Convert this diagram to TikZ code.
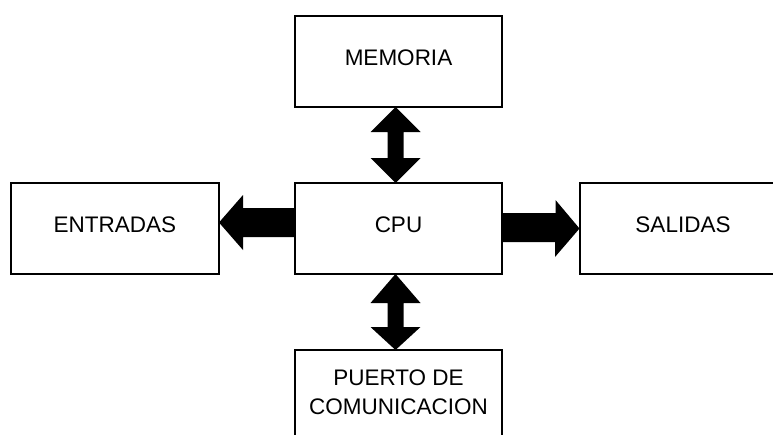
\documentclass[tikz,border=0pt]{standalone}
\usepackage{fontspec}
\setmainfont{Liberation Sans}
\usetikzlibrary{calc}
\tikzset{
  box/.style={draw=black, line width=2pt, fill=white, minimum width=207pt,
    minimum height=91pt, inner sep=0pt, outer sep=0pt, align=center,
    text depth=7pt, font=\fontsize{22.5}{29}\selectfont},
  blockarrow/.style={fill=black, draw=none}
}
\begin{document}
\begin{tikzpicture}[x=1pt, y=-1pt]
  \useasboundingbox (0,0) rectangle (773,434);
  % blocks
  \node[box] (mem) at (398.5,61.5) {MEMORIA};
  \node[box] (cpu) at (398.5,228.5) {CPU};
  \node[box, minimum width=208pt] (ent) at (115,228.5) {ENTRADAS};
  \node[box] (sal) at (683,228.5) {SALIDAS};
  \node[box] (port) at (398.5,395.5) {PUERTO DE\\COMUNICACION};
  % memory <-> cpu
  \fill[blockarrow] ($(mem.south)+(-3,0)$) -- ++(25,25) -- ++(-17,0) -- ++(0,26)
    -- ++(17,0) -- (cpu.north -| {$(mem.south)+(-3,0)$}) -- ++(-25,-25) -- ++(17,0)
    -- ++(0,-26) -- ++(-17,0) -- cycle;
  % cpu <-> port
  \fill[blockarrow] ($(cpu.south)+(-3,0)$) -- ++(25,29) -- ++(-17,0) -- ++(0,24)
    -- ++(17,0) -- (port.north -| {$(cpu.south)+(-3,0)$}) -- ++(-25,-23) -- ++(17,0)
    -- ++(0,-24) -- ++(-17,0) -- cycle;
  % cpu -> entradas
  \fill[blockarrow] ($(ent.east)+(0,-6)$) -- ++(24,-27.5) -- ++(0,13)
    -- ($(cpu.west)+(0,-20.5)$) -- ++(0,29) -- ++(-52,0) -- ++(0,13) -- cycle;
  % cpu -> salidas
  \fill[blockarrow] (sal.west) -- ++(-24,-28.5) -- ++(0,13)
    -- ($(cpu.east)+(0,-15.5)$) -- ++(0,29) -- ++(53,0) -- ++(0,15) -- cycle;
\end{tikzpicture}
\end{document}
